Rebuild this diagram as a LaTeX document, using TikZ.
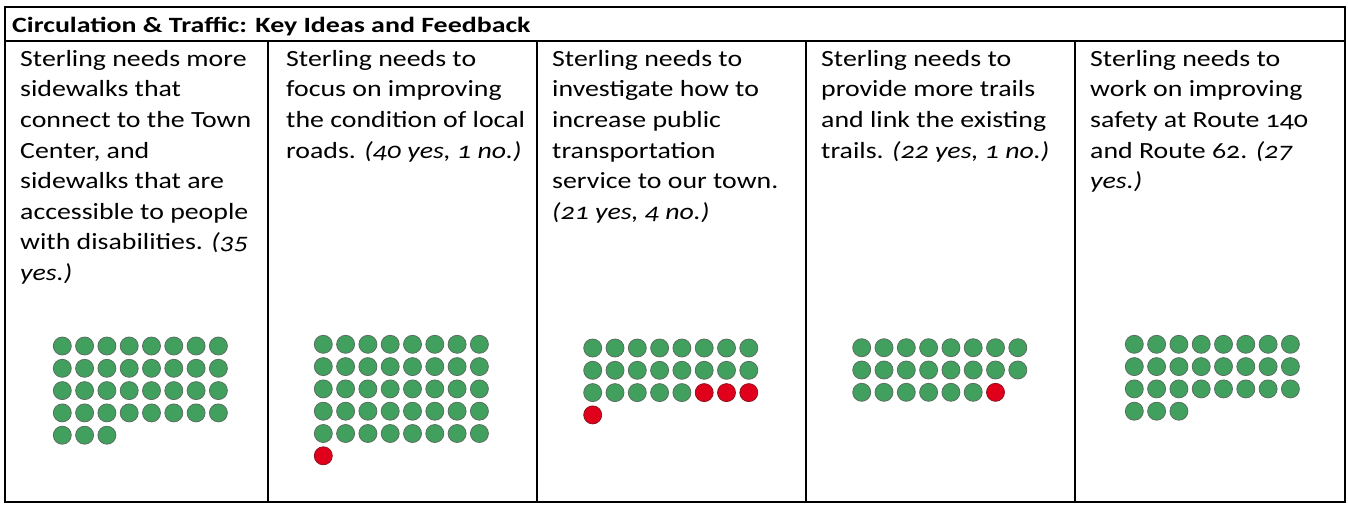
\documentclass[tikz,border=0pt]{standalone}
\usepackage{fontspec}
\setmainfont{Carlito}[Numbers=OldStyle,FakeStretch=1.2]
\newfontfamily\headfont{Carlito}[Numbers=OldStyle,FakeStretch=1.28]
\definecolor{yesgreen}{RGB}{66,160,95}
\definecolor{yesedge}{RGB}{90,110,95}
\definecolor{nored}{RGB}{224,0,27}
\definecolor{noedge}{RGB}{140,20,30}
\newcommand{\Votes}[4]{%
  \pgfmathtruncatemacro{\total}{#3+#4}
  \foreach \i in {1,...,\total}{
    \pgfmathtruncatemacro{\cx}{mod(\i-1,8)}
    \pgfmathtruncatemacro{\cy}{div(\i-1,8)}
    \ifnum\i>#3 \def\dotstyle{NoVote}\else\def\dotstyle{YesVote}\fi
    \filldraw[\dotstyle] (#1+\cx*22.3,#2+\cy*22.3) circle [radius=9pt];
  }}
\begin{document}
\begin{tikzpicture}[x=1pt,y=-1pt]
	\tikzstyle{YesVote} = [fill=yesgreen,draw=yesedge,line width=0.8pt]
	\tikzstyle{NoVote} = [fill=nored,draw=noedge,line width=0.8pt]
	\tikzstyle{Cell} = [anchor=north west,inner sep=0pt,align=left,font=\fontsize{23.2}{30.6}\selectfont]
	\useasboundingbox (0,0) rectangle (1348,504);
	\draw[line width=2pt] (5,7) rectangle (1345,502);
	\draw[line width=2pt] (5,41)--(1345,41);
	\foreach \x in {268,537,806,1075}
		\draw[line width=2pt] (\x,41)--(\x,502);
	\node[anchor=base west,inner sep=0pt,font=\headfont\fontsize{21.8}{24}\selectfont\bfseries] (title) at (12,32) {Circulation \& Traffic: Key Ideas and Feedback};
	\node[Cell] (sidewalks) at (20,50) {Sterling needs more\\sidewalks that\\connect to the Town\\Center, and\\sidewalks that are\\accessible to people\\with disabilities. \textit{(35}\\\textit{yes.)}};
	\node[Cell] (roads) at (286,50) {Sterling needs to\\focus on improving\\the condition of local\\roads. \textit{(40 yes, 1 no.)}};
	\node[Cell] (transit) at (552,50) {Sterling needs to\\investigate how to\\increase public\\transportation\\service to our town.\\\textit{(21 yes, 4 no.)}};
	\node[Cell] (trails) at (821,50) {Sterling needs to\\provide more trails\\and link the existing\\trails. \textit{(22 yes, 1 no.)}};
	\node[Cell] (safety) at (1090,50) {Sterling needs to\\work on improving\\safety at Route 140\\and Route 62. \textit{(27}\\\textit{yes.)}};
	\Votes{62.3}{346}{35}{0}
	\Votes{323.3}{344.3}{40}{1}
	\Votes{592.7}{348}{21}{4}
	\Votes{861.7}{347.7}{22}{1}
	\Votes{1134.3}{344.3}{27}{0}
\end{tikzpicture}
\end{document}
